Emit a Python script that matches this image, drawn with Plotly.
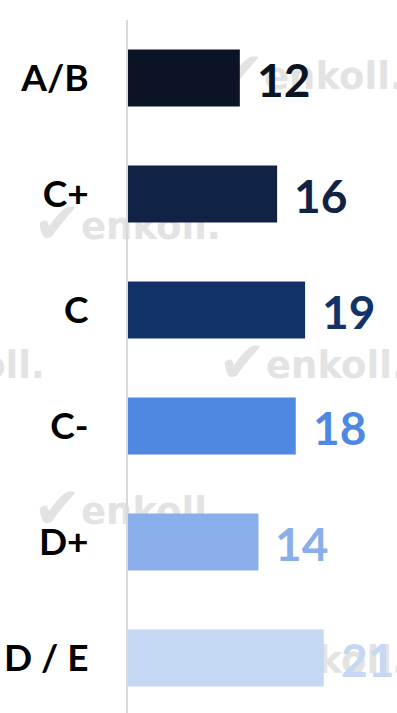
import plotly.graph_objects as go

# Socioeconomic level shares (%)
categories = ["A/B", "C+", "C", "C-", "D+", "D / E"]
values = [12, 16, 19, 18, 14, 21]
colors = ["#0b1427", "#112344", "#13326a", "#4f88e0", "#8aaeea", "#c4d7f3"]

W, H = 397, 713
ML, MT = 128, 20
PW, PH = W - ML, H - MT
PX_PER_UNIT = 9.32
X_MAX = PW / PX_PER_UNIT
ROW_PX = 116

fig = go.Figure()
fig.add_trace(go.Bar(
    y=categories,
    x=values,
    orientation="h",
    marker=dict(color=colors, line=dict(width=0)),
    width=0.49,
    hoverinfo="skip",
))

# value labels beside each bar
for cat, val, col in zip(categories, values, colors):
    fig.add_annotation(
        x=val, y=cat, xref="x", yref="y",
        text=str(val), showarrow=False,
        xanchor="left", yanchor="middle", xshift=15, yshift=-1,
        font=dict(family="Lato", size=46, color=col, weight="bold"),
    )


# faint brand watermarks, drawn as shape labels so they sit beneath the bars
def paper(px, py):
    return (px - ML) / PW, (H - py) / PH


WM_COLOR = "#e3e3e3"


def label_box(px, py, text, family, size, width):
    x0, y0 = paper(px, py + 30)
    x1, y1 = paper(px + width, py - 30)
    fig.add_shape(
        type="rect", xref="paper", yref="paper",
        x0=x0, x1=x1, y0=y0, y1=y1,
        line=dict(width=0), fillcolor="rgba(0,0,0,0)",
        layer="below",
        label=dict(
            text=text, textposition="middle left", padding=0,
            font=dict(family=family, size=size, color=WM_COLOR, weight="bold"),
        ),
    )


marks = [(213, 73), (30, 223), (-146, 362), (215, 362), (30, 508), (215, 657)]
for px, py in marks:
    label_box(px, py - 4, "\u2714", "DejaVu Sans", 58, 55)
    label_box(px + 48, py, "enkoll.", "DejaVu Sans", 37, 150)

fig.update_layout(
    width=W, height=H,
    margin=dict(l=ML, r=0, t=MT, b=0, pad=0),
    paper_bgcolor="white",
    plot_bgcolor="rgba(0,0,0,0)",
    showlegend=False,
    xaxis=dict(range=[0, X_MAX], visible=False, fixedrange=True),
    yaxis=dict(
        categoryorder="array", categoryarray=categories,
        range=[-0.5 + PH / ROW_PX, -0.5],
        showline=True, linecolor="#d9d9d9", linewidth=2,
        showgrid=False, zeroline=False, ticks="",
        ticklabelstandoff=30,
        tickfont=dict(family="Lato", size=37, color="#000000", weight="bold"),
        fixedrange=True,
    ),
)

fig.write_html("out.html")
